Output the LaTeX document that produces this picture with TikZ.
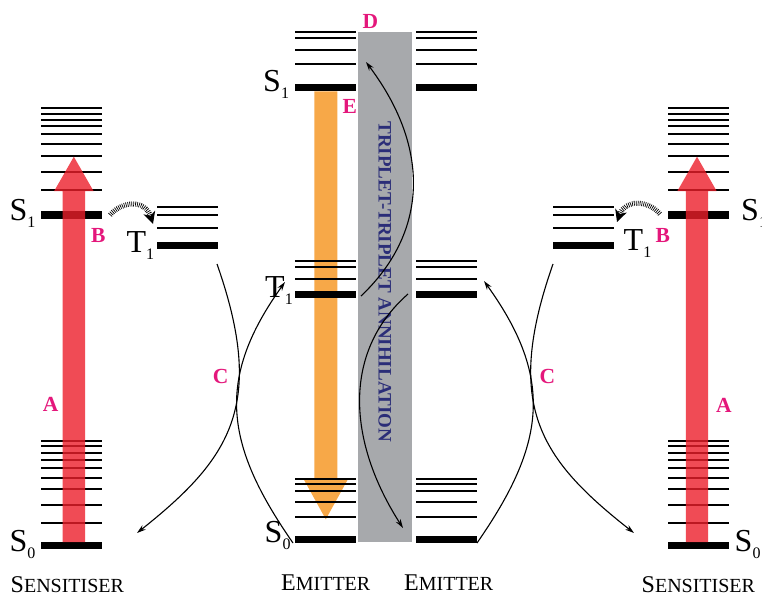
\documentclass[tikz,border=0pt]{standalone}
\usepackage{fontspec}
\setmainfont{Liberation Serif}
\usetikzlibrary{arrows.meta}
\definecolor{lblmag}{RGB}{228,23,123}
\definecolor{redarrow}{RGB}{236,30,42}
\definecolor{orangearrow}{RGB}{247,168,72}
\definecolor{ttagray}{RGB}{167,169,172}
\definecolor{ttatext}{RGB}{43,46,120}
\newcommand{\stsub}[1]{\raisebox{-7pt}{\fontsize{16}{16}\selectfont #1}}
\newcommand{\fakesc}[2]{{\fontsize{24}{24}\selectfont #1}{\fontsize{20}{20}\selectfont #2}}
\tikzset{
  thinlvl/.style={line width=2.3pt},
  thicklvl/.style={line width=7.5pt},
  statelbl/.style={inner sep=0pt, anchor=base west, font=\fontsize{32}{32}\selectfont},
  namelbl/.style={inner sep=0pt, anchor=base west},
  letterlbl/.style={inner sep=0pt, text=lblmag, font=\bfseries\fontsize{21.5}{21.5}\selectfont},
  transfer/.style={line width=1.1pt, -{Stealth[length=9pt,width=5.5pt]}},
  hatched/.style={line width=5pt, dash pattern=on 0.7pt off 1.2pt, -{Stealth[length=12pt,width=12pt,inset=3.5pt]}},
}
\begin{document}
\begin{tikzpicture}[x=1pt,y=-1pt]
\useasboundingbox (0,0) rectangle (762,596);
\clip (0,0) rectangle (762,596);
% TTA band
\fill[ttagray] (357.7,32.3) rectangle (412,541.7);
% orange emission arrow (under levels)
\fill[orangearrow] (314.3,91.5) -- (314.3,480) -- (304.1,480) -- (325.8,519.3) -- (347.5,480) -- (337.3,480) -- (337.3,91.5) -- cycle;
% sensitiser levels (left and right)
\foreach \xa/\xb in {41/102, 668/729}{
  \foreach \y in {108.3,114,120,126,134.3,144,155.7,172,190,441.3,446,453.3,459.7,467.7,477.7,489,505.3,523.3}
    \draw[thinlvl] (\xa,\y) -- (\xb,\y);
  \draw[thicklvl] (\xa,215) -- (\xb,215);
  \draw[thicklvl] (\xa,545.7) -- (\xb,545.7);
}
% sensitiser T1 levels
\foreach \xa/\xb in {157/217.7, 553/614}{
  \foreach \y in {206.7,215,228}
    \draw[thinlvl] (\xa,\y) -- (\xb,\y);
  \draw[thicklvl] (\xa,245.7) -- (\xb,245.7);
}
% emitter levels
\foreach \xa/\xb in {295/356, 416/477}{
  \foreach \y in {32.3,38.3,50,64.3,260.7,267.3,279,479.3,484.3,490.7,502,517}
    \draw[thinlvl] (\xa,\y) -- (\xb,\y);
  \foreach \y in {87.7,294.3,539.3}
    \draw[thicklvl] (\xa,\y) -- (\xb,\y);
}
% red absorption arrows
\fill[redarrow, opacity=0.8] (62.7,542) -- (62.7,191) -- (54.2,191) -- (73.85,156.7) -- (93.5,191) -- (85,191) -- (85,542) -- cycle;
\fill[redarrow, opacity=0.8] (685.8,542) -- (685.8,191) -- (677.4,191) -- (697,156.7) -- (716.6,191) -- (708.2,191) -- (708.2,542) -- cycle;
% TTA text
\node[rotate=-90, inner sep=0pt, text=ttatext, font=\bfseries\fontsize{19}{19}\selectfont] (tta) at (384.8,281.7) {TRIPLET-TRIPLET ANNIHILATION};
% connector end points
\coordinate (sT1L) at (217,264);
\coordinate (sS0L) at (137,533);
\coordinate (eS0L) at (293,543);
\coordinate (eT1L) at (285,282);
\coordinate (sT1R) at (553,264);
\coordinate (sS0R) at (634,533);
\coordinate (eS0R) at (477,543);
\coordinate (eT1R) at (484,281);
\coordinate (ttaUpA) at (361,296);
\coordinate (ttaUpB) at (366,62);
\coordinate (ttaDnA) at (408,294);
\coordinate (ttaDnB) at (403,528);
\coordinate (iscLa) at (110,215);
\coordinate (iscLb) at (153,224);
\coordinate (iscRa) at (660,214);
\coordinate (iscRb) at (617,222);
% triplet energy transfer curves
\draw[transfer] (sT1L) .. controls (266.5,405) and (230.6,458.6) .. (sS0L);
\draw[transfer] (eS0L) .. controls (224.6,444.6) and (215.4,379.2) .. (eT1L);
\draw[transfer] (sT1R) .. controls (503.5,405) and (539.4,458.6) .. (sS0R);
\draw[transfer] (eS0R) .. controls (545.4,444.6) and (554.6,379.2) .. (eT1R);
% TTA curves
\draw[transfer] (ttaUpA) .. controls (426.7,233.9) and (432,150) .. (ttaUpB);
\draw[transfer] (ttaDnA) .. controls (340.5,353.4) and (349,444) .. (ttaDnB);
% intersystem crossing
\draw[hatched] (iscLa) .. controls (122,201) and (145,199) .. (iscLb);
\draw[hatched] (iscRa) .. controls (648,200) and (625,199) .. (iscRb);
% state labels
\node[statelbl] (lS1) at (9.5,220.5) {S\stsub{1}};
\node[statelbl] (lS0) at (9.5,551) {S\stsub{0}};
\node[statelbl] (lT1) at (126.5,252) {T\stsub{1}};
\node[statelbl] (eS1) at (263,92) {S\stsub{1}};
\node[statelbl] (eT1) at (265,297) {T\stsub{1}};
\node[statelbl] (eS0) at (264.5,542) {S\stsub{0}};
\node[statelbl] (rT1) at (623.5,250.5) {T\stsub{1}};
\node[statelbl] (rS1) at (741,220.5) {S\stsub{1}};
\node[statelbl] (rS0) at (734.5,551) {S\stsub{0}};
% names
\node[namelbl] (nSL) at (10.5,592) {\fakesc{S}{ENSITISER}};
\node[namelbl] (nEL) at (281,590) {\fakesc{E}{MITTER}};
\node[namelbl] (nER) at (404,590) {\fakesc{E}{MITTER}};
\node[namelbl] (nSR) at (641.5,592) {\fakesc{S}{ENSITISER}};
% process letters
\node[letterlbl] (A1) at (50.7,404) {A};
\node[letterlbl] (A2) at (724,405) {A};
\node[letterlbl] (B1) at (98.3,235.7) {B};
\node[letterlbl] (B2) at (662.7,235) {B};
\node[letterlbl] (C1) at (220.7,376) {C};
\node[letterlbl] (C2) at (547.3,376.7) {C};
\node[letterlbl] (D) at (370.5,21.7) {D};
\node[letterlbl] (E) at (349.7,106) {E};
\end{tikzpicture}
\end{document}
